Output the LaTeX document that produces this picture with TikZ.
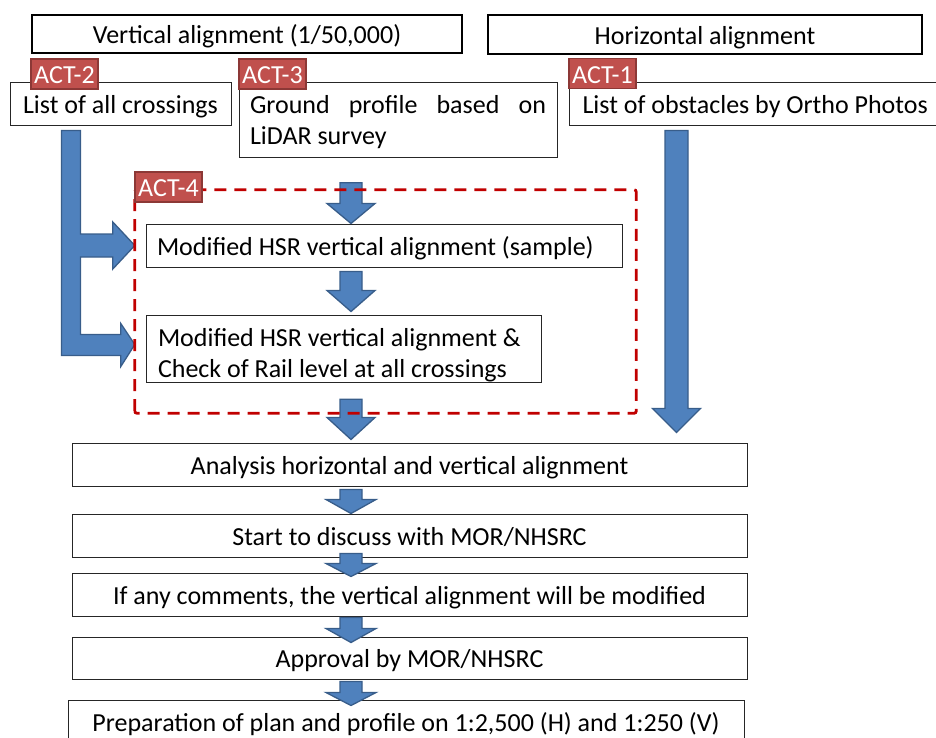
\documentclass[tikz,border=0pt]{standalone}
\usepackage{fontspec}
\setmainfont{Carlito}
\usetikzlibrary{calc}
\hyphenation{LiDAR}
\definecolor{FlowBlue}{HTML}{4F81BD}
\definecolor{FlowEdge}{HTML}{385D8A}
\definecolor{TagRed}{HTML}{C0504D}
\definecolor{TagEdge}{HTML}{8C3836}
\definecolor{DashRed}{HTML}{C00000}

\tikzset{
  boxfont/.style={font=\fontsize{26}{31.5}\selectfont},
  stepbox/.style={draw=black!85,line width=1pt,fill=white,boxfont,
    inner xsep=11pt,inner ysep=0pt,text height=19pt,text depth=0pt},
  headbox/.style={stepbox,draw=black,line width=2.6pt},
  acttag/.style={draw=TagEdge,line width=1.3pt,fill=TagRed,text=white,boxfont,
    inner sep=0pt,minimum width=67pt,minimum height=30pt,
    text height=19pt,text depth=0pt},
  flow/.style={fill=FlowBlue,draw=FlowEdge,line width=1.3pt,line join=miter},
  groupbox/.style={draw=DashRed,line width=2.8pt,dash pattern=on 12pt off 8pt,
    rounded corners=2pt}
}

% block arrow pointing down: from, tip, shaft half width, head half width, head length
\newcommand{\flowdown}[5]{%
  \filldraw[flow] let \p1=(#1), \p2=(#2) in
    (\x2-#3,\y1) -- (\x2+#3,\y1) -- (\x2+#3,\y2+#5) -- (\x2+#4,\y2+#5)
    -- (\x2,\y2) -- (\x2-#4,\y2+#5) -- (\x2-#3,\y2+#5) -- cycle;}

\begin{document}
\begin{tikzpicture}[x=1pt,y=-1pt]
    \useasboundingbox (0,0) rectangle (936,737);
    \coordinate (spine) at (351,0);
    \coordinate (rail) at (676.5,0);

    % sources
    \node[headbox,minimum width=430pt,minimum height=38pt] (vert) at (247,34)
      {Vertical alignment (1/50,000)};
    \node[headbox,minimum width=434pt,minimum height=39pt] (horz) at (705,34.5)
      {Horizontal alignment};
    \node[stepbox,minimum width=221pt,minimum height=43pt] (cross) at (120.5,103.5)
      {List of all crossings};
    \node[stepbox,text width=296pt,align=justify,minimum height=75pt,
      text depth=32pt] (ground) at (398,119.5)
      {Ground profile based on LiDAR survey};
    \node[stepbox,anchor=west,inner xsep=13pt,minimum height=43pt]
      (obst) at (569,103.5) {List of obstacles by Ortho Photos};

    % ACT-4 group
    \node[minimum width=501pt,minimum height=223pt,inner sep=0pt] (revbox)
      at (385.5,301.5) {};
    \node[stepbox,text width=454pt,align=flush left,minimum height=43pt] (sample)
      at (384,245.5) {Modified HSR vertical alignment (sample)};
    \node[stepbox,text width=371pt,inner xsep=12pt,align=flush left,
      minimum height=67pt,text depth=24pt] (check) at (343.5,348.5)
      {Modified HSR vertical alignment \&\\Check of Rail level at all crossings};

    % main sequence
    \node[stepbox,minimum width=675pt,minimum height=43pt] (analysis) at (409.5,464.5)
      {Analysis horizontal and vertical alignment};
    \node[stepbox,minimum width=675pt,minimum height=43pt] (start) at (409.5,535.5)
      {Start to discuss with MOR/NHSRC};
    \node[stepbox,minimum width=675pt,minimum height=43pt] (comments) at (409.5,594.5)
      {If any comments, the vertical alignment will be modified};
    \node[stepbox,minimum width=675pt,minimum height=42pt] (approval) at (409.5,658)
      {Approval by MOR/NHSRC};
    \node[stepbox,minimum width=676pt,minimum height=43pt] (prep) at (406,721.5)
      {Preparation of plan and profile on 1:2,500 (H) and 1:250 (V)};

    % crossings feed both alignment steps
    \coordinate (tipA) at (sample.west -| revbox.west);
    \coordinate (tipB) at ($(check.west -| revbox.west)+(0,-4)$);
    \coordinate (lstart) at ($(cross.south west)+(52,5)$);
    \filldraw[flow] let \p1=(lstart), \p2=(tipA), \p3=(tipB) in
      (\x1,\y1) -- (\x1+19pt,\y1) -- (\x1+19pt,\y2+11.5pt)
      -- (\x2-22pt,\y2+11.5pt) -- (\x2-22pt,\y2+23.5pt) -- (\x2,\y2)
      -- (\x2-22pt,\y2-23.5pt) -- (\x2-22pt,\y2-11.5pt) -- (\x1+19pt,\y2-11.5pt)
      -- (\x1+19pt,\y3+10pt) -- (\x3-14pt,\y3+10pt) -- (\x3-14pt,\y3+21pt)
      -- (\x3,\y3) -- (\x3-14pt,\y3-22pt) -- (\x3-14pt,\y3-11pt)
      -- (\x1,\y3-11pt) -- cycle;

    \flowdown{$(obst.south -| rail)+(0,5)$}{$(analysis.north -| rail)+(0,-10)$}{11.5pt}{24pt}{24pt}
    \flowdown{$(revbox.north -| spine)+(0,-7)$}{sample.north -| spine}{11pt}{24pt}{20pt}
    \flowdown{$(sample.south -| spine)+(0,4)$}{$(check.north -| spine)+(0,-3)$}{11pt}{24pt}{21pt}
    \flowdown{$(revbox.south -| spine)+(0,-14)$}{$(analysis.north -| spine)+(0,-3)$}{11pt}{24pt}{22pt}

    \draw[groupbox] (revbox.south west) rectangle (revbox.north east);

    \flowdown{$(analysis.south -| spine)+(0,3)$}{start.north -| spine}{11pt}{25pt}{14pt}
    \flowdown{$(start.south -| spine)+(0,-4)$}{$(comments.north -| spine)+(0,4)$}{11pt}{25pt}{13pt}
    \flowdown{$(comments.south -| spine)+(0,1)$}{$(approval.north -| spine)+(0,6)$}{11pt}{25pt}{14pt}
    \flowdown{$(approval.south -| spine)+(0,2)$}{$(prep.north -| spine)+(0,6)$}{11pt}{25pt}{13pt}

    % activity tags
    \node[acttag] (act2) at (64.5,74) {ACT-2};
    \node[acttag] (act3) at (272.5,74) {ACT-3};
    \node[acttag] (act1) at (602.5,73.5) {ACT-1};
    \node[acttag] (act4) at (168.5,187) {ACT-4};
\end{tikzpicture}
\end{document}
